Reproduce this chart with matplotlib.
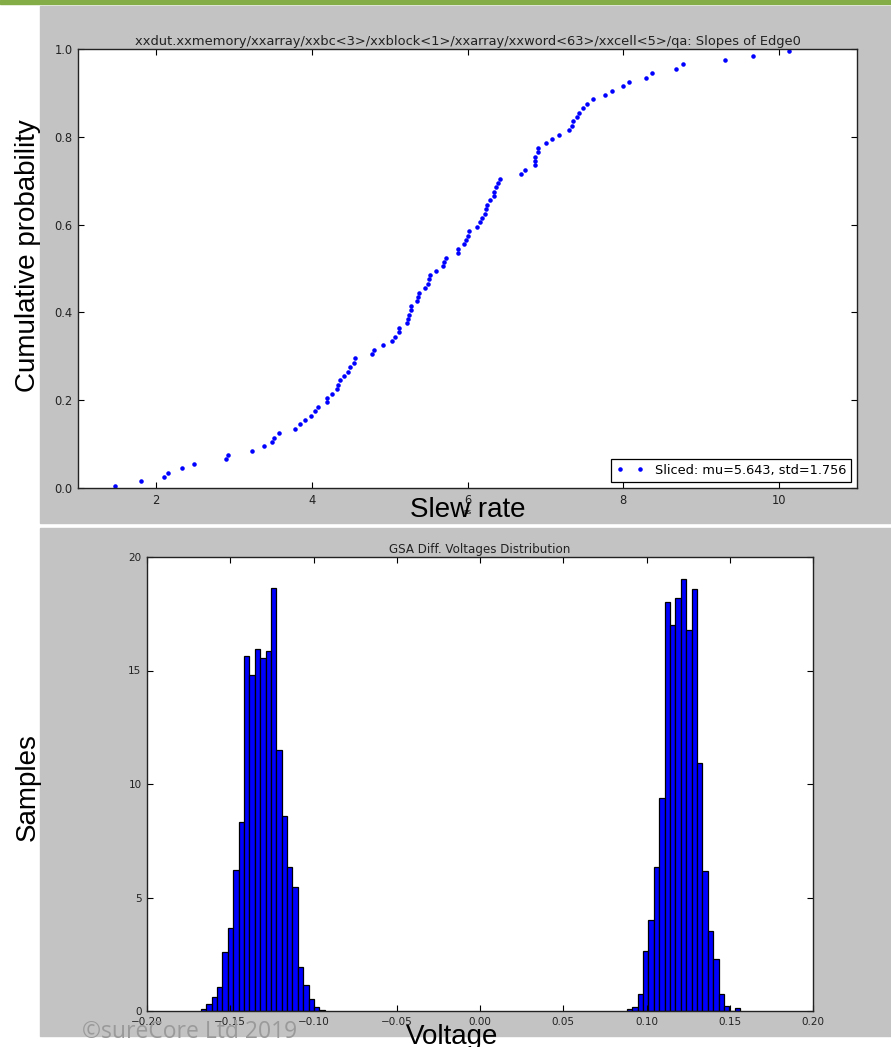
import numpy as np
import matplotlib
matplotlib.use("Agg")
import matplotlib.pyplot as plt
from matplotlib.patches import Rectangle

# --- slope data (ns) ---
slew_ns = [
    1.48, 1.81, 2.10, 2.15, 2.34, 2.49, 2.90, 2.93, 3.24, 3.39,
    3.49, 3.52, 3.58, 3.79, 3.85, 3.91, 3.99, 4.04, 4.08, 4.20,
    4.20, 4.26, 4.32, 4.34, 4.36, 4.41, 4.47, 4.49, 4.54, 4.56,
    4.77, 4.80, 4.92, 5.03, 5.07, 5.12, 5.12, 5.22, 5.24, 5.25,
    5.27, 5.27, 5.35, 5.36, 5.38, 5.45, 5.49, 5.50, 5.52, 5.60,
    5.68, 5.70, 5.72, 5.88, 5.88, 5.96, 5.98, 6.00, 6.02, 6.12,
    6.16, 6.18, 6.22, 6.24, 6.25, 6.29, 6.34, 6.34, 6.37, 6.39,
    6.42, 6.69, 6.74, 6.87, 6.87, 6.87, 6.90, 6.90, 7.01, 7.09,
    7.17, 7.30, 7.34, 7.36, 7.41, 7.43, 7.48, 7.53, 7.61, 7.77,
    7.86, 7.99, 8.07, 8.29, 8.37, 8.68, 8.77, 9.31, 9.66, 10.13,
]
legend_label = "Sliced: mu=5.643, std=1.756"

# --- GSA diff voltage histogram (normed), two clusters ---
bin_width = 0.00324
neg_start = -0.1677
neg_density = [0.09, 0.32, 0.62, 1.07, 2.59, 3.67, 6.20, 8.32, 15.65, 14.80,
               15.96, 15.55, 15.87, 18.63, 11.51, 8.58, 6.36, 5.48, 1.93, 1.15,
               0.54, 0.19, 0.04]
pos_start = 0.0882
pos_density = [0.07, 0.18, 0.73, 2.66, 4.00, 6.33, 9.38, 18.00, 17.00, 18.19,
               19.02, 16.78, 18.60, 10.93, 6.17, 3.54, 2.31, 0.76, 0.24, 0.0,
               0.12]

top_title = "xxdut.xxmemory/xxarray/xxbc<3>/xxblock<1>/xxarray/xxword<63>/xxcell<5>/qa: Slopes of Edge0"
bottom_title = "GSA Diff. Voltages Distribution"
volt_ticks = [-0.20, -0.15, -0.10, -0.05, 0.00, 0.05, 0.10, 0.15, 0.20]

W, H = 891, 1047
fig = plt.figure(figsize=(W / 100, H / 100), dpi=100, facecolor="white")


def fx(px):
    return px / W


def fy(py):
    return 1 - py / H


# slide decoration (behind everything)
fig.patches.append(Rectangle((0, fy(4)), 1, 4 / H, transform=fig.transFigure,
                             color="#84ad47", zorder=-10))
panel = "#c3c3c3"
fig.patches.append(Rectangle((fx(40), fy(523)), fx(851), 517 / H,
                             transform=fig.transFigure, color=panel, zorder=-10))
fig.patches.append(Rectangle((fx(40), fy(1036)), fx(851), 508 / H,
                             transform=fig.transFigure, color=panel, zorder=-10))


def style_axes(ax, fs):
    ax.tick_params(direction="in", top=True, right=True, length=4, width=0.8,
                   labelsize=fs, labelcolor="#222222", pad=4)
    for s in ax.spines.values():
        s.set_linewidth(1.0)
        s.set_color("#222222")


# --- top: cumulative probability ---
ax1 = fig.add_axes([fx(78), fy(488), fx(857 - 78), (488 - 49) / H])
xs = np.sort(np.array(slew_ns))
cdf = (np.arange(1, len(xs) + 1) - 0.5) / len(xs)
ax1.plot(xs, cdf, ".", color="blue", ms=4.5, label=legend_label)
ax1.set_xlim(1, 11)
ax1.set_ylim(0, 1)
ax1.set_xticks([2, 4, 6, 8, 10])
ax1.set_yticks([0, 0.2, 0.4, 0.6, 0.8, 1.0])
ax1.set_yticklabels(["0.0", "0.2", "0.4", "0.6", "0.8", "1.0"])
style_axes(ax1, 8.3)
ax1.set_title(top_title, fontsize=9.4, color="#222222", pad=3)
leg = ax1.legend(loc="lower right", numpoints=2, fancybox=False, fontsize=9.3,
                 framealpha=1, edgecolor="black", borderaxespad=0.5,
                 handlelength=2.2, handletextpad=0.8, borderpad=0.35)
leg.get_frame().set_linewidth(0.9)
ax1.set_xlabel("ns", fontsize=5, labelpad=2)

# --- bottom: histogram ---
ax2 = fig.add_axes([fx(147), fy(1011), fx(813 - 147), (1011 - 557) / H])
neg_edges = neg_start + bin_width * np.arange(len(neg_density))
pos_edges = pos_start + bin_width * np.arange(len(pos_density))
ax2.bar(neg_edges, neg_density, width=bin_width, align="edge", color="blue",
        edgecolor="black", linewidth=0.9)
ax2.bar(pos_edges, pos_density, width=bin_width, align="edge", color="blue",
        edgecolor="black", linewidth=0.9)
ax2.set_xlim(-0.2, 0.2)
ax2.set_ylim(0, 20)
ax2.set_xticks(volt_ticks)
ax2.set_xticklabels(["%.2f" % v if v >= 0 else "\u2212%.2f" % -v for v in volt_ticks])
ax2.set_yticks([0, 5, 10, 15, 20])
style_axes(ax2, 7.5)
ax2.set_title(bottom_title, fontsize=8.6, color="#222222", pad=3)

# slide-level labels
big = dict(family="Liberation Sans", fontsize=20, color="black")
fig.text(fx(28), fy(256), "Cumulative probability", rotation=90,
         ha="center", va="center", **big)
fig.text(fx(468), fy(517), "Slew rate", ha="center", va="baseline", **big)
fig.text(fx(28), fy(787), "Samples", rotation=90, ha="center", va="center", **big)
fig.text(fx(452), fy(1044), "Voltage", ha="center", va="baseline", **big)
fig.text(fx(82), fy(1038), "\u00a9sureCore Ltd 2019", ha="left", va="baseline",
         family="Open Sans", fontsize=16.5, color="#9a9a9a")

fig.savefig("out.png", dpi=100, facecolor="white")
